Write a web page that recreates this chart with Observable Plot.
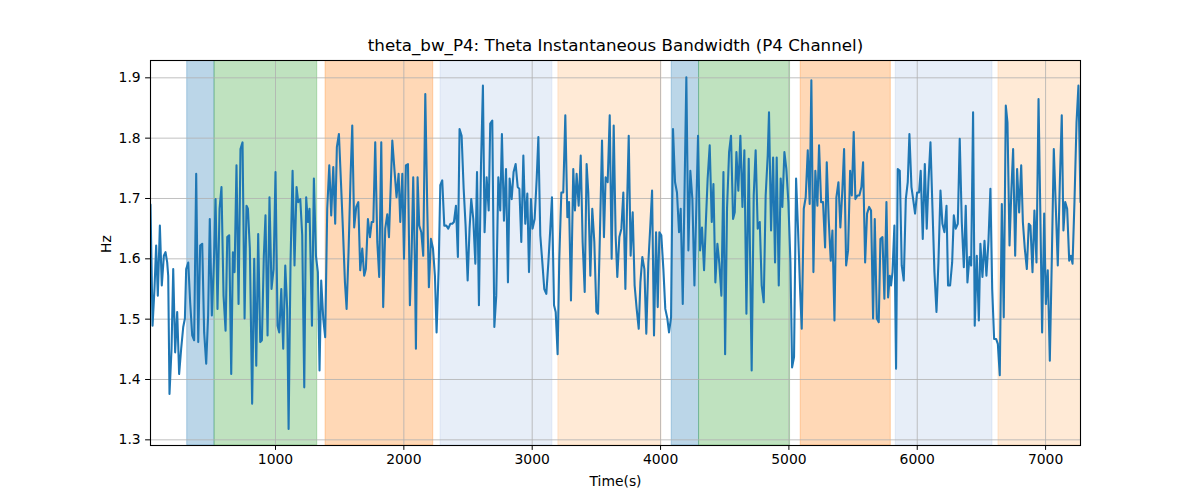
<!DOCTYPE html>
<html>
<head>
<meta charset="utf-8">
<script src="https://cdn.jsdelivr.net/npm/d3@7"></script>
<script src="https://cdn.jsdelivr.net/npm/@observablehq/plot@0.6"></script>
<style>
  html, body { margin: 0; padding: 0; background: white; }
  #chart { width: 1200px; height: 500px; }
</style>
</head>
<body>
<div id="chart"></div>
<script>
const titleText = "theta_bw_P4: Theta Instantaneous Bandwidth (P4 Channel)";
const xLabel = "Time(s)";
const yLabel = "Hz";
const xTicks = [1000, 2000, 3000, 4000, 5000, 6000, 7000];
const yTicks = [1.3, 1.4, 1.5, 1.6, 1.7, 1.8, 1.9];
const xDomain = [26, 7272];
const yDomain = [1.2906, 1.9287];

// shaded state segments
const bandStart = [312, 525, 1390, 2286, 3204, 4087, 4300, 5092, 5833, 6633];
const bandEnd   = [525, 1325, 2229, 3157, 4006, 4300, 5009, 5794, 6586, 7290];
const bandKind  = ["A", "B", "C", "D", "E", "A", "B", "C", "D", "E"];
const bandKinds = ["A", "B", "C", "D", "E"];

// series: time (s) and instantaneous bandwidth (Hz), by segment
const t1 = [26,42,57,70,83,99,114,130,143,156,164,174,190,203,218,234,249,265,281,294,304,320,335,351,366,382,398,413,429,444,460,475,488,504,520,533,548,564,579,595,611,624,639,655,668,681,696,712,727,743,759,774,785,800,818,834,850,865,881,894,909,922,938,953];
const v1 = [1.69,1.489,1.550,1.622,1.539,1.655,1.556,1.605,1.611,1.594,1.572,1.376,1.451,1.583,1.445,1.512,1.409,1.451,1.487,1.501,1.583,1.594,1.528,1.473,1.465,1.741,1.462,1.622,1.625,1.478,1.426,1.506,1.666,1.506,1.594,1.699,1.517,1.683,1.719,1.539,1.481,1.636,1.639,1.409,1.611,1.578,1.755,1.525,1.782,1.793,1.501,1.688,1.683,1.617,1.360,1.600,1.423,1.641,1.462,1.465,1.605,1.672,1.473,1.702];
const t2 = [969,985,1000,1016,1029,1045,1060,1076,1091,1102,1117,1133,1148,1164,1177,1193,1208,1224,1239,1252,1265,1284,1299,1315,1330,1343,1356,1372,1387,1403,1419,1434,1450,1465,1478,1494,1510,1525,1541,1554,1569,1585,1598,1613,1629,1645,1660,1676,1691,1704,1720,1736,1749,1762,1777,1793,1808,1824,1839,1855,1871,1884];
const v2 = [1.550,1.583,1.744,1.489,1.478,1.550,1.451,1.589,1.517,1.318,1.594,1.746,1.589,1.719,1.694,1.699,1.639,1.387,1.702,1.661,1.683,1.489,1.733,1.605,1.578,1.415,1.564,1.501,1.470,1.683,1.755,1.672,1.752,1.658,1.785,1.807,1.727,1.650,1.561,1.517,1.611,1.738,1.821,1.652,1.686,1.694,1.581,1.617,1.572,1.583,1.666,1.636,1.661,1.661,1.793,1.628,1.570,1.793,1.520,1.650,1.674,1.636];
const t3 = [1910,1928,1943,1959,1972,1988,2001,2016,2032,2047,2060,2073,2086,2094,2107,2120,2136,2151,2167,2182,2195,2211,2227,2242,2255,2271,2284,2299,2315,2331,2346,2362,2377,2390,2406,2421,2434,2450,2466,2481,2497,2512,2525,2541,2557,2570,2585,2601,2616,2629,2645,2661,2673,2689,2705,2720,2736,2751,2764,2780,2796,2811,2824];
const v3 = [1.796,1.744,1.702,1.741,1.661,1.741,1.600,1.755,1.757,1.523,1.605,1.735,1.594,1.451,1.735,1.655,1.644,1.605,1.873,1.688,1.553,1.633,1.617,1.572,1.478,1.583,1.722,1.730,1.655,1.655,1.650,1.658,1.658,1.661,1.688,1.603,1.815,1.804,1.716,1.655,1.564,1.650,1.699,1.666,1.592,1.744,1.523,1.755,1.887,1.644,1.735,1.680,1.824,1.829,1.487,1.539,1.735,1.680,1.807,1.663,1.749,1.561,1.733];
const t4 = [2840,2855,2871,2887,2900,2915,2931,2946,2962,2975,2990,3003,3019,3035,3048,3063,3079,3094,3110,3126,3141,3154,3170,3183,3198,3211,3227,3242,3258,3274,3287,3302,3320,3333,3346,3362,3378,3393,3409,3424,3437,3453,3468,3484,3500,3513,3528,3544,3559,3572,3588,3604,3619,3635,3650,3663,3679,3695,3710,3726,3739,3752];
const v4 = [1.699,1.744,1.757,1.719,1.716,1.628,1.771,1.658,1.708,1.578,1.699,1.650,1.666,1.733,1.802,1.639,1.594,1.550,1.542,1.594,1.650,1.702,1.523,1.512,1.442,1.600,1.710,1.710,1.838,1.669,1.694,1.531,1.749,1.680,1.741,1.688,1.771,1.628,1.545,1.757,1.710,1.572,1.683,1.628,1.512,1.509,1.644,1.796,1.636,1.735,1.727,1.838,1.600,1.821,1.639,1.570,1.636,1.650,1.710,1.550,1.688,1.804];
const t5 = [3767,3783,3798,3814,3830,3843,3858,3874,3889,3905,3921,3934,3949,3965,3978,3991,4006,4022,4037,4053,4066,4082,4097,4113,4128,4144,4157,4173,4188,4201,4217,4232,4248,4264,4279,4292,4308,4323,4339,4354,4367,4383,4399,4412,4427,4443,4458,4474,4490,4503,4518,4534,4549,4565,4578,4591,4606,4622,4638,4653,4669,4687];
const v5 = [1.605,1.677,1.556,1.517,1.484,1.561,1.603,1.583,1.476,1.594,1.658,1.713,1.473,1.644,1.520,1.644,1.639,1.583,1.517,1.501,1.478,1.503,1.815,1.727,1.710,1.644,1.683,1.525,1.727,1.901,1.614,1.746,1.699,1.556,1.688,1.804,1.614,1.652,1.581,1.666,1.733,1.788,1.661,1.724,1.561,1.625,1.592,1.539,1.744,1.442,1.683,1.777,1.804,1.666,1.677,1.777,1.713,1.804,1.686,1.780,1.509,1.766];
const t6 = [4710,4726,4741,4757,4773,4788,4804,4819,4835,4845,4861,4877,4892,4905,4921,4936,4949,4965,4980,4996,5012,5025,5040,5056,5071,5087,5100,5116,5131,5147,5162,5175,5191,5206,5222,5235,5251,5266,5282,5295,5310,5326,5339,5355,5370,5386,5401,5417,5430,5446,5461,5477,5490,5505,5518,5534,5549,5565,5578,5594,5609,5625];
const v6 = [1.415,1.705,1.780,1.650,1.661,1.556,1.528,1.705,1.771,1.843,1.647,1.768,1.594,1.768,1.556,1.733,1.686,1.777,1.749,1.694,1.594,1.420,1.437,1.733,1.650,1.550,1.484,1.683,1.702,1.780,1.691,1.896,1.578,1.746,1.688,1.788,1.694,1.694,1.619,1.760,1.666,1.597,1.647,1.498,1.702,1.727,1.652,1.716,1.782,1.589,1.614,1.746,1.705,1.810,1.699,1.705,1.705,1.719,1.760,1.594,1.675,1.686];
const t7 = [5640,5656,5669,5685,5700,5713,5729,5744,5760,5773,5786,5796,5807,5822,5835,5848,5864,5879,5895,5911,5926,5939,5955,5968,5983,5999,6014,6027,6043,6059,6074,6087,6103,6118,6134,6150,6165,6181,6196,6212,6228,6240,6256,6272,6285,6300,6316,6331,6347,6363,6378,6391,6407,6420,6435,6448,6464,6480,6492,6508,6524,6539,6555,6570];
const v7 = [1.680,1.501,1.666,1.501,1.495,1.633,1.636,1.534,1.694,1.536,1.572,1.556,1.578,1.655,1.418,1.749,1.746,1.589,1.564,1.699,1.727,1.807,1.719,1.699,1.675,1.710,1.710,1.746,1.633,1.757,1.650,1.727,1.793,1.688,1.578,1.512,1.594,1.713,1.658,1.644,1.688,1.556,1.556,1.594,1.672,1.650,1.658,1.799,1.661,1.586,1.688,1.561,1.603,1.589,1.843,1.489,1.605,1.498,1.625,1.570,1.630,1.572,1.630,1.716];
const t8 = [6584,6599,6615,6628,6643,6659,6674,6690,6703,6719,6734,6747,6763,6778,6794,6810,6823,6838,6854,6869,6882,6898,6913,6929,6945,6960,6973,6989,7002,7017,7033,7049,7064,7080,7095,7111,7126,7139,7153,7168,7184,7197,7210,7225,7241,7256,7272];
const v8 = [1.550,1.467,1.467,1.459,1.407,1.691,1.503,1.854,1.826,1.622,1.716,1.782,1.605,1.749,1.677,1.755,1.661,1.617,1.583,1.658,1.655,1.578,1.680,1.594,1.865,1.661,1.478,1.675,1.525,1.581,1.431,1.605,1.782,1.683,1.589,1.727,1.838,1.647,1.694,1.683,1.597,1.605,1.592,1.694,1.826,1.887,1.694];

const times = [].concat(t1, t2, t3, t4, t5, t6, t7, t8);
const hz = [].concat(v1, v2, v3, v4, v5, v6, v7, v8);
const series = times.map((t, i) => ({t, v: hz[i]}));
const bands = bandStart.map((s, i) => ({start: s, end: bandEnd[i], kind: bandKind[i]}));

const chart = Plot.plot({
  width: 1200,
  height: 500,
  marginLeft: 150,
  marginRight: 120,
  marginTop: 60,
  marginBottom: 55,
  style: {fontFamily: "DejaVu Sans", fontSize: "13.9px", background: "white", color: "black"},
  x: {domain: xDomain},
  y: {domain: yDomain},
  color: {type: "ordinal", domain: bandKinds, range: ["#1f77b4", "#2ca02c", "#ff7f0e", "#aec7e8", "#ffbb78"]},
  marks: [
    Plot.rect(bands, {x1: "start", x2: "end", y1: yDomain[0], y2: yDomain[1], fill: "kind", fillOpacity: 0.3, stroke: "kind", strokeOpacity: 0.3, strokeWidth: 1, clip: true}),
    Plot.gridX({ticks: xTicks, stroke: "#b0b0b0", strokeOpacity: 1, strokeWidth: 0.8}),
    Plot.gridY({ticks: yTicks, stroke: "#b0b0b0", strokeOpacity: 1, strokeWidth: 0.8}),
    Plot.line(series, {x: "t", y: "v", stroke: "#1f77b4", strokeWidth: 2.08, strokeLinejoin: "round", clip: true}),
    Plot.frame({stroke: "black", strokeWidth: 1.1}),
    Plot.axisX({ticks: xTicks, tickSize: 4.9, tickPadding: 3.5, tickFormat: d => String(d), label: null, fontSize: 13.9}),
    Plot.axisY({ticks: yTicks, tickSize: 4.9, tickPadding: 4.9, tickFormat: d => d.toFixed(1), label: null, fontSize: 13.9}),
    Plot.text([titleText], {frameAnchor: "top", dy: -15, lineAnchor: "middle", fontSize: 16.7, fill: "black"}),
    Plot.text([xLabel], {frameAnchor: "bottom", dy: 36, lineAnchor: "middle", fontSize: 13.9, fill: "black"}),
    Plot.text([yLabel], {frameAnchor: "left", dx: -44, rotate: -90, lineAnchor: "middle", fontSize: 13.9, fill: "black"})
  ]
});
document.getElementById("chart").appendChild(chart);
</script>
</body>
</html>
